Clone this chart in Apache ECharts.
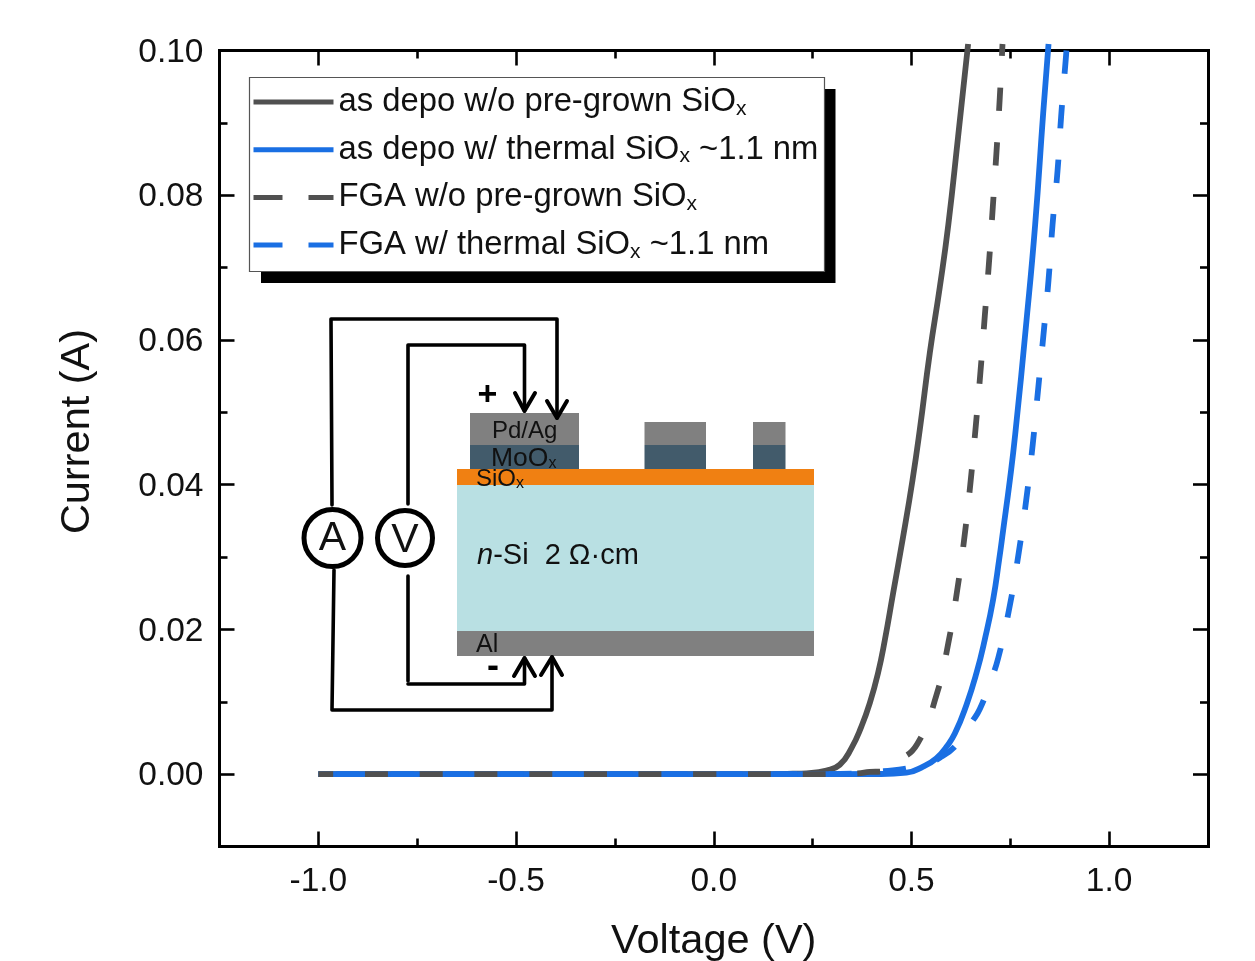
<!DOCTYPE html>
<html>
<head>
<meta charset="utf-8">
<style>html,body{margin:0;padding:0;background:#fff}#c{width:1255px;height:961px}</style>
<script src="https://cdn.jsdelivr.net/npm/echarts@6/dist/echarts.min.js"></script>
</head>
<body>
<div id="c"></div>
<script>
const seriesNames = ['as depo w/o pre-grown SiOx','as depo w/ thermal SiOx ~1.1 nm','FGA w/o pre-grown SiOx','FGA w/ thermal SiOx ~1.1 nm'];
const legendTexts = ['as depo w/o pre-grown SiO{x|x}','as depo w/ thermal SiO{x|x} ~1.1 nm','FGA w/o pre-grown SiO{x|x}','FGA w/ thermal SiO{x|x} ~1.1 nm'];
const xMajor = [-1,-0.5,0,0.5,1];
const xMinor = [-0.75,-0.25,0.25,0.75];
const yMajor = [0,0.02,0.04,0.06,0.08,0.1];
const yMinor = [0.01,0.03,0.05,0.07,0.09];

const asDepoNoOxide = [[-1,0],[-0.5,0],[0,0],[0.1,0],[0.2,0.00005],[0.235,0.00012],[0.2851,0.0005],[0.3187,0.0013],[0.3483,0.0036],[0.3736,0.0066],[0.3946,0.0098],[0.4156,0.014],[0.4326,0.0185],[0.4536,0.025],[0.4789,0.0328],[0.5026,0.0406],[0.5211,0.0476],[0.5464,0.0582],[0.5717,0.0673],[0.5932,0.0759],[0.618,0.0881],[0.6433,0.1009]];
const asDepoThermal = [[-1,0],[-0.5,0],[0,0],[0.2,0],[0.42,0.00002],[0.4875,0.0002],[0.5295,0.00105],[0.5634,0.0022],[0.5887,0.0038],[0.6097,0.0056],[0.6393,0.0096],[0.6646,0.014],[0.6855,0.0186],[0.7065,0.0241],[0.7217,0.0296],[0.7319,0.0337],[0.7488,0.0406],[0.7625,0.047],[0.791,0.0627],[0.8128,0.0759],[0.8331,0.0913],[0.8467,0.1009]];
const fgaNoOxide = [[-1,0],[-0.5,0],[0,0],[0.2,0],[0.3,0.00002],[0.364,0.0001],[0.3946,0.0003],[0.4225,0.00036],[0.4326,0.00066],[0.463,0.0017],[0.5143,0.00414],[0.5634,0.01095],[0.5932,0.0181],[0.6165,0.0257],[0.635,0.0332],[0.6501,0.0407],[0.6615,0.0474],[0.6747,0.0557],[0.6855,0.0633],[0.6964,0.0709],[0.7058,0.0784],[0.7151,0.086],[0.7235,0.0936],[0.7303,0.1009]];
const fgaThermal = [[-1,0],[-0.5,0],[0,0],[0.2,0],[0.38,0.0001],[0.43,0.0004],[0.4882,0.0008],[0.5338,0.0014],[0.5717,0.00225],[0.6172,0.00425],[0.6527,0.0072],[0.6729,0.009],[0.698,0.0126],[0.7192,0.016],[0.7488,0.0233],[0.7716,0.0307],[0.791,0.0382],[0.807,0.0457],[0.8204,0.0532],[0.834,0.0608],[0.8467,0.0683],[0.8568,0.0759],[0.8695,0.0834],[0.8786,0.0909],[0.8897,0.0984],[0.892,0.1]];

const GRAY = '#505050', BLUE = '#1a6fe3', FONT = 'Liberation Sans', INK = '#111';
const DASH = [23,31.7];

function lineSeries(i, data, color, dashOffset, z) {
  return {
    type:'line', name:seriesNames[i], data, symbol:'none', showSymbol:false, clip:false, z,
    smooth:0.5, animation:false,
    lineStyle:{color, width:5.8, type:dashOffset===null?'solid':DASH, dashOffset:dashOffset||0, cap:'butt', join:'round'},
    itemStyle:{color}
  };
}

const lineAx = {show:true, onZero:false, lineStyle:{color:'#000', width:3, cap:'square'}};
function axisX(position, ticks, len, withLabel, extra) {
  return Object.assign({
    type:'value', position, min:-1.25, max:1.25, splitLine:{show:false},
    axisLine:lineAx,
    axisTick:{show:true, inside:true, length:len, customValues:ticks, lineStyle:{color:'#000', width:2.6}},
    axisLabel: withLabel ? {show:true, customValues:ticks, margin:18, fontFamily:FONT, fontSize:33.5, color:INK, formatter:v=>v.toFixed(1)} : {show:false}
  }, extra||{});
}
function axisY(position, ticks, len, withLabel, extra) {
  return Object.assign({
    type:'value', position, min:-0.01, max:0.1, splitLine:{show:false},
    axisLine:lineAx,
    axisTick:{show:true, inside:true, length:len, customValues:ticks, lineStyle:{color:'#000', width:2.6}},
    axisLabel: withLabel ? {show:true, customValues:ticks, margin:16, fontFamily:FONT, fontSize:33.5, color:INK,
      formatter:v=>'{v|'+v.toFixed(2)+'}',
      rich:{v:{fontFamily:FONT,fontSize:33.5,color:INK,padding:[4,0,0,0]}}} : {show:false}
  }, extra||{});
}

// schematic inset
const Z = 20;
function rect(x0,y0,x1,y1,fill){return {type:'rect',z:Z,silent:true,shape:{x:x0,y:y0,width:x1-x0,height:y1-y0},style:{fill}};}
function wire(pts,w){return {type:'polyline',z:Z+1,silent:true,shape:{points:pts},style:{fill:null,stroke:'#000',lineWidth:w||3.6,lineCap:'round',lineJoin:'round'}};}
function circle(cx,cy,r){return {type:'circle',z:Z+1,silent:true,shape:{cx,cy,r},style:{fill:'#fff',stroke:'#000',lineWidth:5}};}
function label(x,y,text,size,align,extra){return {type:'text',z:Z+2,silent:true,x,y,style:Object.assign({text,fontFamily:FONT,fontSize:size,fill:INK,align:align||'left',verticalAlign:'middle'},extra||{})};}
const subRich = s => ({x:{fontFamily:FONT,fontSize:s,fill:INK,color:INK,padding:[s*0.62,0,0,0]}});

const legendFrame = [
  {type:'rect',z:9,silent:true,shape:{x:261,y:89,width:574.5,height:194},style:{fill:'#000'}},
  {type:'rect',z:10,silent:true,shape:{x:249.5,y:77.5,width:575,height:194},style:{fill:'#fff',stroke:'#555',lineWidth:1.2}}
];

const inset = [
  rect(457,485,814,631,'#b9e0e3'),
  rect(457,469,814,485,'#f08012'),
  rect(457,631,814,656,'#808080'),
  rect(470,413,579,445,'#808080'), rect(470,445,579,469,'#425b6b'),
  rect(644.5,422,706,445,'#808080'), rect(644.5,445,706,469,'#425b6b'),
  rect(753,422,785.5,445,'#808080'), rect(753,445,785.5,469,'#425b6b'),
  wire([[332,505],[331,319],[557,319],[557,418]]),
  wire([[547,401],[557,418],[567,401]],4),
  wire([[408,504],[408,345],[524.5,345],[524.5,411]]),
  wire([[515,393],[524.5,411],[535,393]],4),
  wire([[334,570],[332,710],[552,710],[552,657]]),
  wire([[541,675],[552,657],[562,675]],4),
  wire([[408,576],[408,681]]),
  wire([[408,684],[524.5,684],[524.5,658]]),
  wire([[514,676],[524.5,658],[535,676]],4),
  circle(332.5,538,28.5), circle(405,538,27.5),
  label(332.5,539,'A',41,'center'),
  label(405,541,'V',41,'center'),
  label(487.5,396,'+',34,'center',{fontWeight:'bold',fill:'#000'}),
  label(493,667,'-',36,'center',{fontWeight:'bold',fill:'#000'}),
  label(492,431,'Pd/Ag',24),
  label(491,459,'MoO{x|x}',26.5,'left',{rich:subRich(16)}),
  label(476,479,'SiO{x|x}',24,'left',{rich:subRich(16)}),
  label(477,556,'{i|n}-Si  2 Ω·cm',29,'left',{rich:{i:{fontFamily:FONT,fontSize:29,fontStyle:'italic',fill:INK,color:INK}}}),
  label(476,645,'Al',25)
];

const option = {
  backgroundColor:'#fff',
  animation:false,
  grid:{left:219.5,right:47,top:50.5,bottom:114.5,containLabel:false,outerBoundsMode:'none'},
  xAxis:[
    axisX('bottom',xMajor,15,true,{name:'Voltage (V)',nameLocation:'middle',nameGap:95,nameTextStyle:{fontFamily:FONT,fontSize:41.5,color:INK,verticalAlign:'middle'}}),
    axisX('bottom',xMinor,8,false),
    axisX('top',xMajor,15,false),
    axisX('top',xMinor,8,false)
  ],
  yAxis:[
    axisY('left',yMajor,15,true,{name:'Current (A)',nameLocation:'middle',nameGap:142,nameTextStyle:{fontFamily:FONT,fontSize:41.5,color:INK,verticalAlign:'middle',padding:[0,0,0,34]}}),
    axisY('left',yMinor,8,false),
    axisY('right',yMajor,15,false),
    axisY('right',yMinor,8,false)
  ],
  legend:{
    show:true, orient:'vertical', left:248, top:78, z:15,
    padding:[5,4,6,3], itemWidth:80, itemHeight:20, itemGap:9.7,
    selectedMode:false,
    lineStyle:{width:5},
    itemStyle:{opacity:0},
    data:[
      {name:seriesNames[0]},
      {name:seriesNames[1]},
      {name:seriesNames[2],lineStyle:{type:[29,26],dashOffset:0,width:5}},
      {name:seriesNames[3],lineStyle:{type:[29,26],dashOffset:0,width:5}}
    ],
    formatter:n=>legendTexts[seriesNames.indexOf(n)],
    textStyle:{fontFamily:FONT,fontSize:32.8,color:INK,lineHeight:38,rich:{x:{fontFamily:FONT,fontSize:21,color:INK,padding:[14,0,0,0]}}}
  },
  series:[
    lineSeries(0,asDepoNoOxide,GRAY,null,2),
    lineSeries(1,asDepoThermal,BLUE,null,3),
    lineSeries(2,fgaNoOxide,GRAY,8,5),
    lineSeries(3,fgaThermal,BLUE,36.7,4)
  ],
  graphic:{elements:legendFrame.concat(inset)}
};
const chart = echarts.init(document.getElementById('c'),null,{renderer:'canvas',width:1255,height:961});
chart.setOption(option);
</script>
</body>
</html>
